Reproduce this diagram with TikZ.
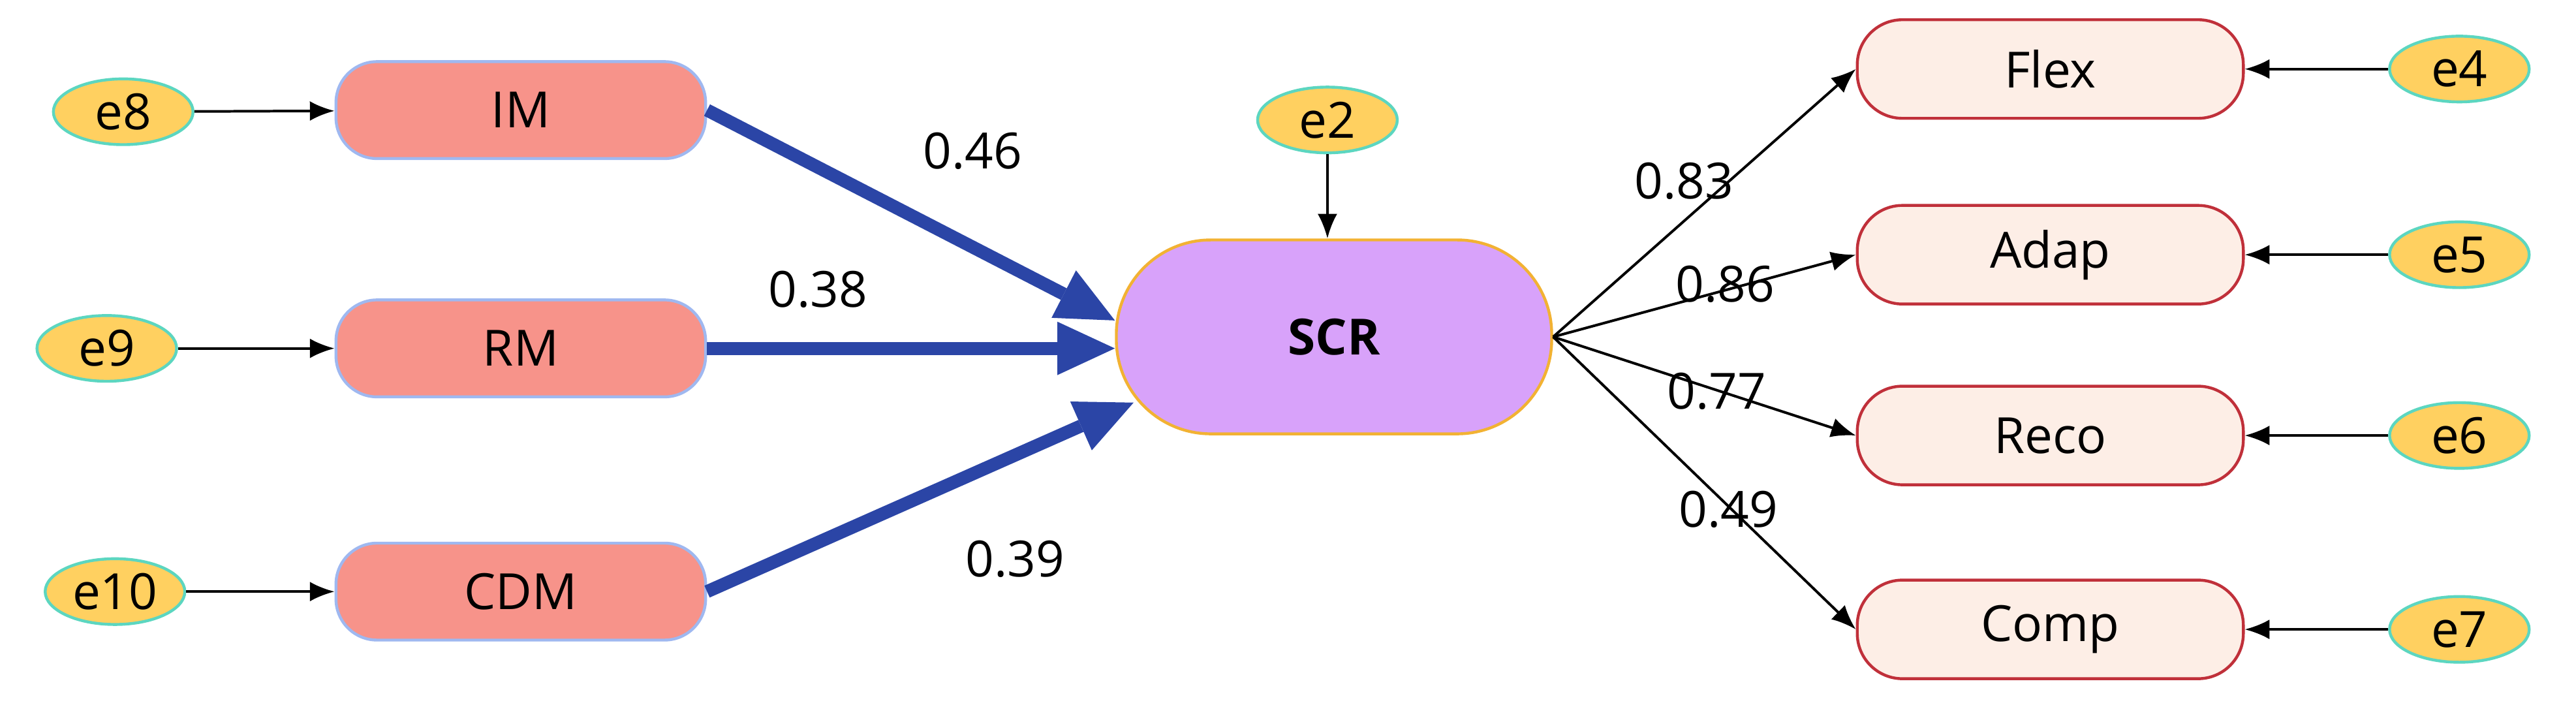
\documentclass[tikz,border=0pt]{standalone}
\usepackage{fontspec}
\setmainfont{Open Sans}
\usetikzlibrary{arrows.meta,shapes.geometric}
\definecolor{errfill}{HTML}{FFD060}
\definecolor{errline}{HTML}{5CD6C0}
\definecolor{exofill}{HTML}{F7938A}
\definecolor{exoline}{HTML}{9FB8F0}
\definecolor{midfill}{HTML}{D8A2FA}
\definecolor{midline}{HTML}{F2B233}
\definecolor{indfill}{HTML}{FDEEE6}
\definecolor{indline}{HTML}{C0303A}
\definecolor{pathblue}{HTML}{2B45A6}
\begin{document}
\begin{tikzpicture}[x=0.2mm,y=-0.2mm,>={Latex[length=3.2mm,width=2.6mm]}, font=\LARGE]

  % Styles
  \tikzset{err/.style={draw=errline, fill=errfill, ellipse, line width=1pt, minimum width=1.7cm, minimum height=0.8cm, inner sep=0pt}}
  \tikzset{exo/.style={draw=exoline, fill=exofill, rounded corners=0.5cm, line width=1pt, minimum width=4.5cm, minimum height=1.18cm}}
  \tikzset{ind/.style={draw=indline, fill=indfill, rounded corners=0.55cm, line width=1pt, minimum width=4.7cm, minimum height=1.2cm}}
  \tikzset{thin arr/.style={->, line width=0.9pt, >={Latex[length=3mm,width=2.4mm]}}}
  \tikzset{path arr/.style={->, pathblue, line width=4.5pt, >={Triangle[length=7mm,width=6.5mm,line width=0pt]}}}

  \useasboundingbox (0,0) rectangle (1568,430);

  % Left side
  \node[exo] (im) at (317,67) {IM};
  \node[exo] (rm) at (317,212) {RM};
  \node[exo] (cdm) at (317,360) {CDM};
  \node[err] (e8) at (75,68) {e8};
  \node[err] (e9) at (65,212) {e9};
  \node[err] (e10) at (70,360) {e10};

  % Centre
  \node[draw=midline, fill=midfill, rounded corners=1.15cm, line width=1pt, minimum width=5.3cm, minimum height=2.36cm, font=\LARGE\bfseries] (scr) at (812,205) {SCR};
  \node[err] (e2) at (808,73) {e2};

  % Right side
  \node[ind] (flex) at (1248,42) {Flex};
  \node[ind] (adap) at (1248,155) {Adap};
  \node[ind] (reco) at (1248,265) {Reco};
  \node[ind] (comp) at (1248,383) {Comp};
  \node[err] (e4) at (1497,42) {e4};
  \node[err] (e5) at (1497,155) {e5};
  \node[err] (e6) at (1497,265) {e6};
  \node[err] (e7) at (1497,383) {e7};

  % Error arrows
  \draw[thin arr] (e8) -- (im);
  \draw[thin arr] (e9) -- (rm);
  \draw[thin arr] (e10) -- (cdm);
  \draw[thin arr] (e2) -- (e2 |- scr.north);
  \draw[thin arr] (e4) -- (flex);
  \draw[thin arr] (e5) -- (adap);
  \draw[thin arr] (e6) -- (reco);
  \draw[thin arr] (e7) -- (comp);

  % Structural paths
  \draw[path arr] (im.east) -- (scr.west |- 0,195);
  \draw[path arr] (rm.east) -- (scr.west |- rm.east);
  \draw[path arr] (cdm.east) -- (690,245);
  \node at (592,92) {0.46};
  \node at (498,176) {0.38};
  \node at (618,340) {0.39};

  % Loadings
  \draw[thin arr] (scr.east) -- (flex.west);
  \draw[thin arr] (scr.east) -- (adap.west);
  \draw[thin arr] (scr.east) -- (reco.west);
  \draw[thin arr] (scr.east) -- (comp.west);
  \node at (1025,110) {0.83};
  \node at (1050,173) {0.86};
  \node at (1045,238) {0.77};
  \node at (1052,310) {0.49};

\end{tikzpicture}
\end{document}
